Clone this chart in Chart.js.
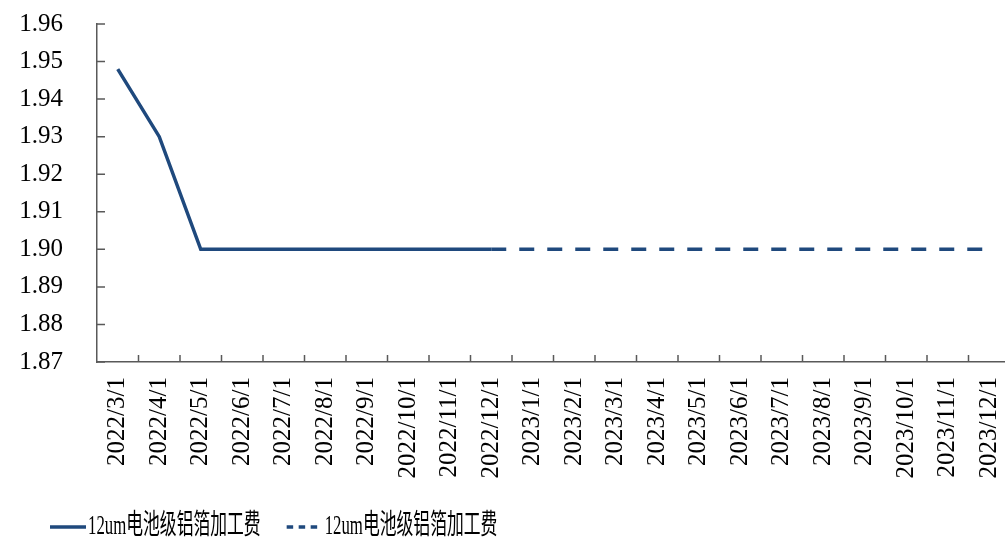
<!DOCTYPE html>
<html>
<head>
<meta charset="utf-8">
<title>12um电池级铝箔加工费</title>
<script src="https://cdn.jsdelivr.net/npm/chart.js@4.4.1/dist/chart.umd.min.js"></script>
<style>
  html, body { margin: 0; padding: 0; background: #fff; overflow: hidden; }
  #wrap { width: 1010px; height: 543px; }
</style>
</head>
<body>
<div id="wrap"><canvas id="feeChart" width="1010" height="543"></canvas></div>
<script>
// months on the x axis
const months = [
  "2022/3/1", "2022/4/1", "2022/5/1", "2022/6/1", "2022/7/1", "2022/8/1",
  "2022/9/1", "2022/10/1", "2022/11/1", "2022/12/1", "2023/1/1", "2023/2/1",
  "2023/3/1", "2023/4/1", "2023/5/1", "2023/6/1", "2023/7/1", "2023/8/1",
  "2023/9/1", "2023/10/1", "2023/11/1", "2023/12/1",
];

// actual fee (solid) and forecast (dashed), 万元/吨
const actualFee = [
  1.948, 1.93, 1.9, 1.9, 1.9, 1.9, 1.9, 1.9, 1.9, 1.9,
  null, null, null, null, null, null, null, null, null, null, null, null,
];
const forecastFee = [
  null, null, null, null, null, null, null, null, null, 1.9,
  1.9, 1.9, 1.9, 1.9, 1.9, 1.9, 1.9, 1.9, 1.9, 1.9, 1.9, 1.9,
];

const yTicks = [1.87, 1.88, 1.89, 1.9, 1.91, 1.92, 1.93, 1.94, 1.95, 1.96];

const seriesName = "12um电池级铝箔加工费";
const lineColor = "#1f497d";
const axisColor = "#595959";

Chart.defaults.font.family = '"Liberation Serif", "Times New Roman", serif';
Chart.defaults.color = "#000";

// short tick marks pointing into the plot area
const innerTicks = {
  id: "innerTicks",
  afterDraw(chart) {
    const { ctx, chartArea, scales } = chart;
    ctx.save();
    ctx.strokeStyle = axisColor;
    ctx.lineWidth = 1.5;
    ctx.beginPath();
    for (let i = 1; i <= months.length; i++) {
      const x = scales.x.getPixelForValue(i - 0.5);
      ctx.moveTo(x, chartArea.bottom);
      ctx.lineTo(x, chartArea.bottom - 7);
    }
    scales.y.ticks.forEach((t) => {
      const y = scales.y.getPixelForValue(t.value);
      ctx.moveTo(chartArea.left, y);
      ctx.lineTo(chartArea.left + 8, y);
    });
    ctx.stroke();
    ctx.restore();
  },
};

// legend row at the bottom, text narrowed horizontally
const bottomLegend = {
  id: "bottomLegend",
  afterDraw(chart) {
    const ctx = chart.ctx;
    const y = 527;
    const sampleLen = 36;
    const squeeze = 0.6;
    const items = [
      { dash: [], label: seriesName },
      { dash: [6.5, 5.5], label: seriesName },
    ];
    let x = 50;
    ctx.save();
    ctx.font = '28px "Liberation Serif", "Noto Sans CJK SC", serif';
    ctx.textBaseline = "middle";
    ctx.fillStyle = "#000";
    items.forEach((item) => {
      ctx.strokeStyle = lineColor;
      ctx.lineWidth = 3.5;
      ctx.setLineDash(item.dash);
      ctx.beginPath();
      ctx.moveTo(x, y);
      ctx.lineTo(x + sampleLen, y);
      ctx.stroke();
      ctx.setLineDash([]);
      const tx = x + sampleLen + 2;
      const w = ctx.measureText(item.label).width * squeeze;
      ctx.save();
      ctx.translate(tx, y);
      ctx.scale(squeeze, 1);
      ctx.fillText(item.label, 0, 0);
      ctx.restore();
      x = tx + w + 26;
    });
    ctx.restore();
  },
};

const ctx = document.getElementById("feeChart").getContext("2d");
new Chart(ctx, {
  type: "line",
  data: {
    labels: months,
    datasets: [
      {
        label: seriesName,
        data: actualFee,
        borderColor: lineColor,
        backgroundColor: lineColor,
        borderWidth: 3.5,
        pointRadius: 0,
        tension: 0,
        spanGaps: false,
      },
      {
        label: seriesName,
        data: forecastFee,
        borderColor: lineColor,
        backgroundColor: lineColor,
        borderWidth: 3.5,
        borderDash: [15, 13],
        pointRadius: 0,
        tension: 0,
        spanGaps: false,
      },
    ],
  },
  options: {
    responsive: false,
    animation: false,
    devicePixelRatio: 1,
    layout: { padding: { top: 24, left: 0, right: 0, bottom: 50 } },
    plugins: {
      legend: { display: false },
      tooltip: { enabled: false },
    },
    scales: {
      x: {
        offset: true,
        grid: { display: false, drawTicks: false, offset: true },
        border: { display: true, color: axisColor, width: 1.5 },
        ticks: {
          autoSkip: false,
          minRotation: 90,
          maxRotation: 90,
          padding: 15,
          font: { size: 25 },
        },
        afterFit: (s) => {
          s.height = 131;
          s.paddingLeft = 0;
          s.paddingRight = 0;
        },
      },
      y: {
        min: yTicks[0],
        max: yTicks[yTicks.length - 1],
        grid: { display: false, drawTicks: false },
        border: { display: true, color: axisColor, width: 1.5 },
        ticks: {
          padding: 34,
          font: { size: 25 },
          callback: (v) => Number(v).toFixed(2),
        },
        afterBuildTicks: (s) => { s.ticks = yTicks.map((v) => ({ value: v })); },
        afterFit: (s) => {
          s.width = 97;
          s.paddingTop = 0;
          s.paddingBottom = 0;
        },
      },
    },
  },
  plugins: [innerTicks, bottomLegend],
});
</script>
</body>
</html>
